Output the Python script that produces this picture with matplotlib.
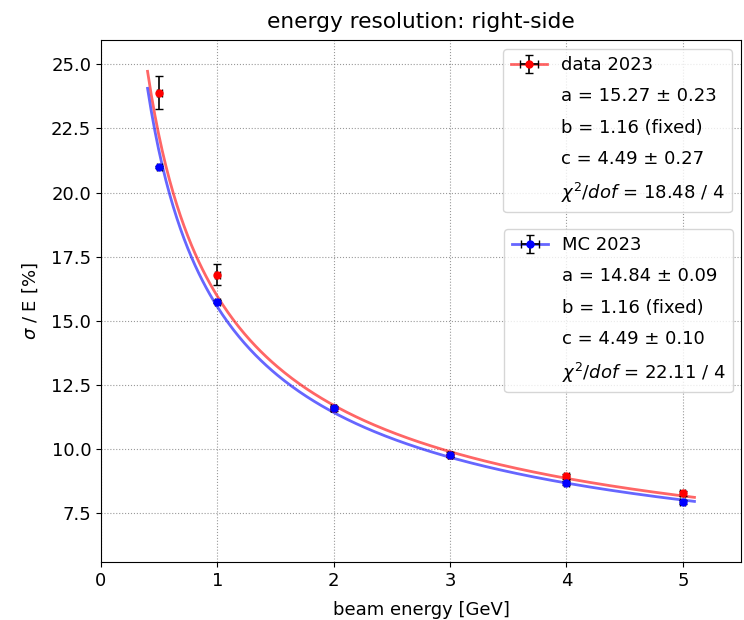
import numpy as np
import matplotlib
matplotlib.use("Agg")
import matplotlib.pyplot as plt
from matplotlib.lines import Line2D

# beam energies [GeV]
energy = [0.5, 1.0, 2.0, 3.0, 4.0, 5.0]
energy_err = [0.02, 0.02, 0.02, 0.02, 0.02, 0.02]

# measured resolution sigma/E [%]
data_res = [23.9, 16.8, 11.6, 9.78, 8.95, 8.28]
data_err = [0.65, 0.42, 0.10, 0.10, 0.10, 0.10]

mc_res = [21.0, 15.75, 11.6, 9.76, 8.68, 7.95]
mc_err = [0.05, 0.05, 0.05, 0.05, 0.08, 0.08]

# fit parameters: sigma/E = sqrt(a^2/E + b^2/E^2 + c^2)
data_fit = {"a": 15.27, "a_err": 0.23, "b": 1.16, "c": 4.49, "c_err": 0.27, "chi2": 18.48, "ndof": 4}
mc_fit = {"a": 14.84, "a_err": 0.09, "b": 1.16, "c": 4.49, "c_err": 0.10, "chi2": 22.11, "ndof": 4}

fit_range = (0.4, 5.1)

FS = 13
plt.rcParams["font.size"] = FS

fig = plt.figure(figsize=(7.44, 6.2), dpi=100)
ax = fig.add_axes([101/744, 58/620, 640/744, 522/620])


def reso(E, p):
    return np.sqrt(p["a"]**2 / E + (p["b"] / E)**2 + p["c"]**2)


E = np.linspace(fit_range[0], fit_range[1], 300)

line_d, = ax.plot(E, reso(E, data_fit), color="red", lw=2, alpha=0.6, zorder=2)
line_m, = ax.plot(E, reso(E, mc_fit), color="blue", lw=2, alpha=0.6, zorder=2)

eb_d = ax.errorbar(energy, data_res, yerr=data_err, xerr=energy_err, fmt="o", color="red",
                   ms=5, ecolor="black", elinewidth=1.2, capsize=3, zorder=3)
eb_m = ax.errorbar(energy, mc_res, yerr=mc_err, xerr=energy_err, fmt="o", color="blue",
                   ms=5, ecolor="black", elinewidth=1.2, capsize=3, zorder=3)

ax.set_xlim(0, 5.5)
ax.set_ylim(5.6, 25.95)
ax.set_xticks([0, 1, 2, 3, 4, 5])
ax.set_yticks([7.5, 10.0, 12.5, 15.0, 17.5, 20.0, 22.5, 25.0])
ax.yaxis.set_major_formatter(matplotlib.ticker.FormatStrFormatter("%.1f"))
ax.grid(True, linestyle=":", color="gray", alpha=0.8)

ax.set_title("energy resolution: right-side", fontsize=FS * 1.2, pad=9)
ax.set_xlabel("beam energy [GeV]", fontsize=FS, labelpad=8)
ax.set_ylabel(r"$\sigma$ / E [%]", fontsize=FS, labelpad=8)


def labels(name, p):
    return [name,
            f"a = {p['a']:.2f} ± {p['a_err']:.2f}",
            f"b = {p['b']:.2f} (fixed)",
            f"c = {p['c']:.2f} ± {p['c_err']:.2f}",
            r"$\chi^2/dof$" + f" = {p['chi2']:.2f} / {p['ndof']}"]


def blank():
    return Line2D([], [], linestyle="none")


h1 = [(line_d, eb_d)] + [blank() for _ in range(4)]
leg1 = ax.legend(h1, labels("data 2023", data_fit), loc="upper right", fontsize=FS,
                 labelspacing=0.73)
ax.add_artist(leg1)
h2 = [(line_m, eb_m)] + [blank() for _ in range(4)]
leg2 = ax.legend(h2, labels("MC 2023", mc_fit), loc="upper right",
                 bbox_to_anchor=(0.9875, 0.638), borderaxespad=0, fontsize=FS,
                 labelspacing=0.73)

fig.savefig("out.png", dpi=100)
